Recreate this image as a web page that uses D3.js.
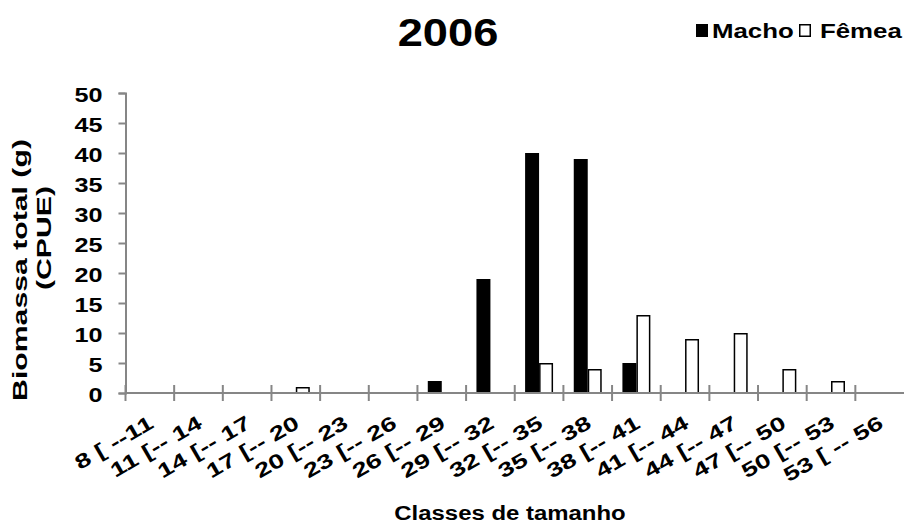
<!DOCTYPE html>
<html>
<head>
<meta charset="utf-8">
<script src="https://cdn.jsdelivr.net/npm/d3@7"></script>
<style>
  body { margin: 0; background: #fff; }
  svg text { font-family: "Liberation Sans", Arial, sans-serif; font-weight: bold; fill: #000; }
</style>
</head>
<body>
<div id="chart"></div>
<script>
// size classes (cm)
const classes = ["8 [ --11", "11 [-- 14", "14 [-- 17", "17 [-- 20", "20 [-- 23", "23 [-- 26",
  "26 [-- 29", "29 [-- 32", "32 [-- 35", "35 [-- 38", "38 [-- 41", "41 [-- 44",
  "44 [-- 47", "47 [-- 50", "50 [-- 53", "53 [ -- 56"];
const macho = [0, 0, 0, 0, 0, 0, 2, 19, 40, 39, 5, 0, 0, 0, 0, 0];
const femea = [0, 0, 0, 1, 0, 0, 0, 0, 5, 4, 13, 9, 10, 4, 2, 0];
const series = ["Macho", "Fêmea"];
const yTicks = [0, 5, 10, 15, 20, 25, 30, 35, 40, 45, 50];

const W = 907, H = 524;
const MARGIN = {left: 125.5, right: 3, top: 93, bottom: 131};
const AXIS = "#868686";
const SX = 1.2; // text in the picture is drawn wide

const svg = d3.select("#chart").append("svg")
  .attr("width", W).attr("height", H);

const x = d3.scaleBand()
  .domain(classes)
  .range([MARGIN.left, W - MARGIN.right]);

const sub = d3.scaleBand()
  .domain(series)
  .range([0, x.bandwidth()])
  .paddingOuter(0.74);

const y = d3.scaleLinear()
  .domain([0, 50])
  .range([H - MARGIN.bottom, MARGIN.top]);

// bars
const rows = classes.map((c, i) => ({c, vals: [
  {s: "Macho", v: macho[i]}, {s: "Fêmea", v: femea[i]}]}));

svg.append("g").selectAll("g")
  .data(rows)
  .join("g")
  .attr("transform", d => `translate(${x(d.c)},0)`)
  .selectAll("rect")
  .data(d => d.vals.filter(e => e.v > 0))
  .join("rect")
  .attr("x", d => sub(d.s) + (d.s === "Fêmea" ? 0.75 : 0))
  .attr("y", d => y(d.v) + (d.s === "Fêmea" ? 0.75 : 0))
  .attr("width", d => sub.bandwidth() - (d.s === "Fêmea" ? 1.5 : 0))
  .attr("height", d => y(0) - y(d.v) - (d.s === "Fêmea" ? 0.75 : 0))
  .attr("fill", d => d.s === "Macho" ? "#000" : "#fff")
  .attr("stroke", d => d.s === "Macho" ? "none" : "#000")
  .attr("stroke-width", 1.5);

// y axis
const yAxisG = svg.append("g")
  .attr("transform", `translate(${MARGIN.left},0)`)
  .call(d3.axisLeft(y).tickValues(yTicks).tickSize(7));
yAxisG.select(".domain").attr("stroke", AXIS).attr("stroke-width", 2);
yAxisG.selectAll(".tick line").attr("stroke", AXIS).attr("stroke-width", 2);
yAxisG.selectAll(".tick text")
  .attr("x", 0)
  .attr("transform", `translate(-23,0) scale(${SX},1)`)
  .attr("font-size", 21).attr("font-family", null).attr("dy", "0.42em");

// x axis: boundary ticks crossing the axis
const xAxisG = svg.append("g");
xAxisG.append("line")
  .attr("x1", MARGIN.left).attr("x2", W - MARGIN.right)
  .attr("y1", y(0)).attr("y2", y(0))
  .attr("stroke", AXIS).attr("stroke-width", 2);
xAxisG.selectAll("line.b")
  .data(classes)
  .join("line")
  .attr("class", "b")
  .attr("x1", d => x(d)).attr("x2", d => x(d))
  .attr("y1", y(0) - 8).attr("y2", y(0) + 8)
  .attr("stroke", AXIS).attr("stroke-width", 2);

xAxisG.selectAll("text")
  .data(classes)
  .join("text")
  .attr("transform", d => `translate(${x(d) + x.bandwidth() / 2 + 5},${y(0) + 34}) rotate(-30) scale(1.37,1)`)
  .attr("text-anchor", "end")
  .attr("font-size", 20)
  .text(d => d);

// titles
svg.append("text")
  .attr("transform", `translate(448,46) scale(1.19,1)`)
  .attr("text-anchor", "middle")
  .attr("font-size", 38)
  .text("2006");

svg.append("text")
  .attr("transform", `translate(510,520) scale(1.14,1)`)
  .attr("text-anchor", "middle")
  .attr("font-size", 21)
  .text("Classes de tamanho");

svg.append("text")
  .attr("transform", "translate(27,270) rotate(-90) scale(1.55,1)")
  .attr("text-anchor", "middle")
  .attr("font-size", 19.5)
  .text("Biomassa total (g)");
svg.append("text")
  .attr("transform", "translate(51,238) rotate(-90) scale(1.55,1)")
  .attr("text-anchor", "middle")
  .attr("font-size", 19.5)
  .text("(CPUE)");

// legend
const legend = svg.append("g").attr("transform", "translate(0,38)");
legend.append("rect").attr("x", 696).attr("y", -14).attr("width", 12).attr("height", 13)
  .attr("fill", "#000");
legend.append("text").attr("transform", "translate(712,0) scale(1.23,1)")
  .attr("font-size", 21).text("Macho");
legend.append("rect").attr("x", 799.75).attr("y", -13.25).attr("width", 10.5).attr("height", 11.5)
  .attr("fill", "#fff").attr("stroke", "#000").attr("stroke-width", 1.5);
legend.append("text").attr("transform", "translate(820,0) scale(1.23,1)")
  .attr("font-size", 21).text("Fêmea");
</script>
</body>
</html>
